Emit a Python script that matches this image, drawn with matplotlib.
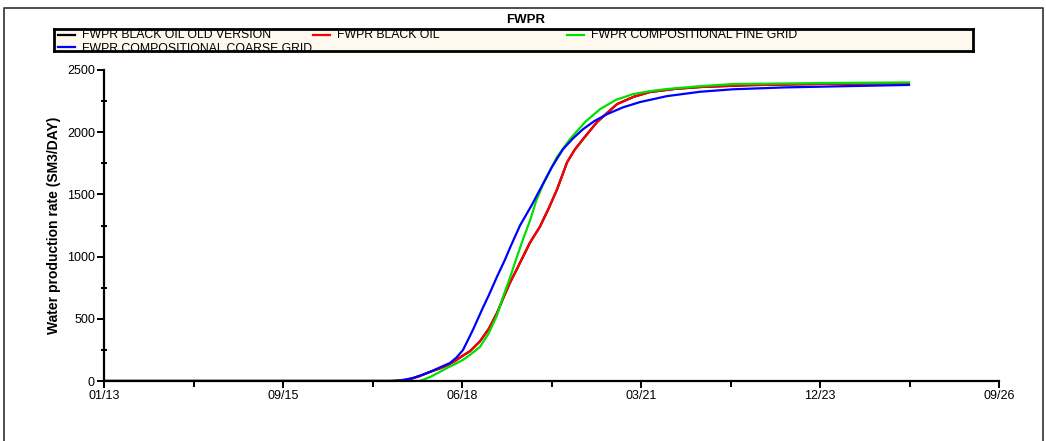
import numpy as np
import matplotlib
matplotlib.use("Agg")
import matplotlib.pyplot as plt
import matplotlib.dates as mdates
from matplotlib.ticker import MultipleLocator, FixedLocator

plt.rcParams['font.family'] = ['Liberation Sans', 'DejaVu Sans']

# ==========================
# DATA (days since 2013-01-01, rate in SM3/DAY)
# ==========================
start = np.datetime64('2013-01-01')

red_days = [0, 1600, 1693, 1760, 1821, 1870, 1916, 1960, 2006, 2045, 2101, 2150, 2196,
            2230, 2268, 2305, 2341, 2380, 2436, 2485, 2531, 2587, 2630, 2676, 2754,
            2866, 2960, 3050, 3190, 3330, 3600, 4000, 4497]
red_vals = [0, 0, 8, 38, 73, 98, 125, 160, 205, 240, 320, 420, 548,
            665, 790, 895, 1000, 1113, 1242, 1390, 1540, 1758, 1860, 1944, 2081,
            2226, 2285, 2323, 2348, 2363, 2378, 2388, 2395]

black_days = red_days
black_vals = red_vals

green_days = [0, 1765, 1821, 1870, 1916, 1960, 2006, 2045, 2101, 2150, 2196, 2230,
              2268, 2305, 2341, 2380, 2415, 2453, 2492, 2530, 2603, 2690, 2771, 2860,
              2955, 3050, 3145, 3330, 3514, 4000, 4497]
green_vals = [0, 0, 32, 68, 105, 135, 170, 210, 275, 385, 530, 680,
              830, 990, 1140, 1290, 1450, 1580, 1690, 1800, 1944, 2085, 2185, 2260,
              2306, 2330, 2347, 2370, 2387, 2395, 2400]

blue_days = [0, 1637, 1726, 1775, 1821, 1870, 1933, 1970, 2006, 2061, 2117, 2150,
             2196, 2240, 2268, 2324, 2390, 2436, 2500, 2564, 2620, 2676, 2740,
             2810, 2900, 2994, 3145, 3330, 3514, 3800, 4073, 4497]
blue_vals = [0, 0, 24, 48, 73, 105, 145, 190, 250, 411, 590, 690,
             840, 975, 1070, 1250, 1415, 1540, 1715, 1863, 1950, 2024, 2090,
             2145, 2200, 2242, 2290, 2325, 2345, 2360, 2368, 2380]

series = [
    ("FWPR BLACK OIL OLD VERSION", black_days, black_vals, "black"),
    ("FWPR BLACK OIL", red_days, red_vals, "#ff0000"),
    ("FWPR COMPOSITIONAL FINE GRID", green_days, green_vals, "#00e000"),
    ("FWPR COMPOSITIONAL COARSE GRID", blue_days, blue_vals, "#0000ff"),
]

tick_step = 1000  # days between major ticks
n_ticks = 6

# ==========================
# FIGURE
# ==========================
W, H = 1046, 441
fig = plt.figure(figsize=(W / 100, H / 100), dpi=100)

# outer frame (left, top, right only)
fx0, fx1, fy = 3.5 / W, 1042.5 / W, 1 - 8 / H
fig.add_artist(plt.Line2D([fx0, fx0, fx1, fx1], [0, fy, fy, 0], transform=fig.transFigure,
                          color='#404040', lw=1.3))

fig.text(526 / W, 1 - 20 / H, "FWPR", ha='center', va='center', fontsize=9.5, fontweight='bold')

ax = fig.add_axes([104 / W, (H - 381) / H, (999 - 104) / W, (381 - 70) / H])

for name, d, v, c in series:
    dates = start + np.array(d).astype('timedelta64[D]')
    ax.plot(dates.astype('datetime64[D]').astype(object), v, color=c, lw=1.6, label=name)

xmin = start.astype(object)
xmax = (start + np.timedelta64(tick_step * (n_ticks - 1), 'D')).astype(object)
ax.set_xlim(xmin, xmax)
ax.set_ylim(0, 2500)

major = [mdates.date2num((start + np.timedelta64(tick_step * k, 'D')).astype(object)) for k in range(n_ticks)]
minor = [(a + b) / 2 for a, b in zip(major[:-1], major[1:])]
ax.xaxis.set_major_locator(FixedLocator(major))
ax.xaxis.set_minor_locator(FixedLocator(minor))
ax.xaxis.set_major_formatter(mdates.DateFormatter('%m/%y'))
ax.yaxis.set_major_locator(MultipleLocator(500))
ax.yaxis.set_minor_locator(MultipleLocator(250))

for s in ['top', 'right']:
    ax.spines[s].set_visible(False)
for s in ['left', 'bottom']:
    ax.spines[s].set_linewidth(1.6)
ax.tick_params(axis='both', which='major', length=5, width=1.4, labelsize=9, pad=1.5)
ax.tick_params(axis='x', which='minor', length=4, width=1.4)
ax.tick_params(axis='y', which='minor', direction='inout', length=4, width=1.4)
ax.set_ylabel("Water production rate (SM3/DAY)", fontsize=10, fontweight='bold', labelpad=4)

# ==========================
# LEGEND BOX (second row clipped, as in the original)
# ==========================
lx0, lx1, ly0, ly1 = 54, 973, 29, 51
lax = fig.add_axes([lx0 / W, (H - ly1) / H, (lx1 - lx0) / W, (ly1 - ly0) / H])
lax.set_facecolor('#fff8ee')
lax.set_xlim(0, lx1 - lx0)
lax.set_ylim(ly1 - ly0, 0)
lax.set_xticks([])
lax.set_yticks([])
for s in lax.spines.values():
    s.set_linewidth(2)
    s.set_zorder(5)

pos = [(4, 6), (259, 6), (513, 6), (4, 18)]
for (name, d, v, c), (hx, hy) in zip(series, pos):
    lax.plot([hx, hx + 17], [hy, hy], color=c, lw=1.6, clip_on=True)
    lax.text(hx + 24, hy + (2.5 if hy > 10 else 0), name, va='center', ha='left',
             fontsize=8.8, clip_on=True)

fig.savefig("out.png", dpi=100)
